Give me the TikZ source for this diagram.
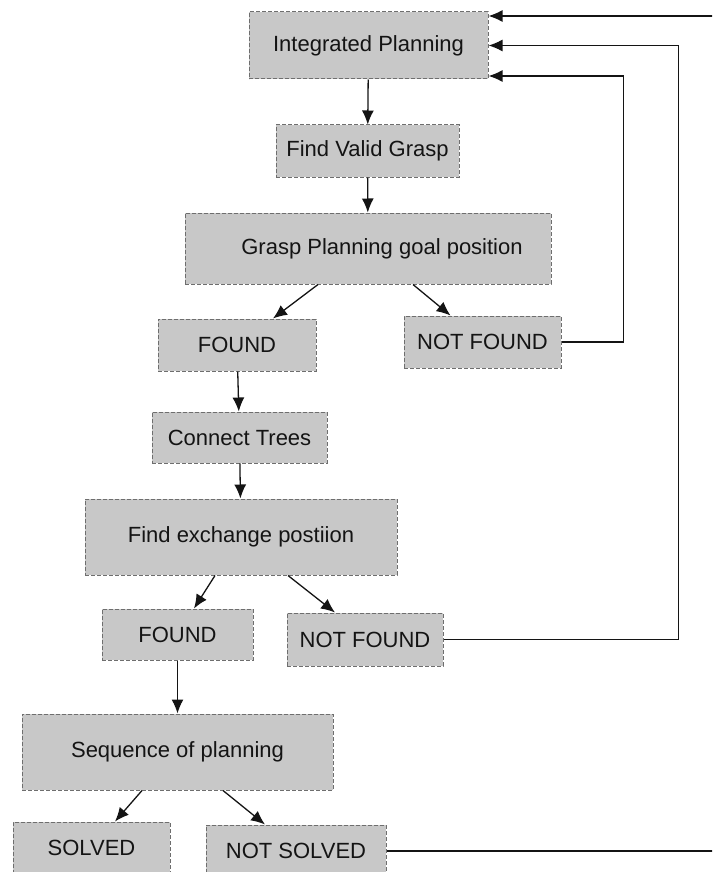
\documentclass[tikz,border=0pt]{standalone}
\usepackage{fontspec}
\setmainfont{Liberation Sans}
\usepackage{tikz}
\usetikzlibrary{arrows.meta, positioning}
\definecolor{boxfill}{HTML}{C8C8C8}
\definecolor{boxedge}{HTML}{6E6E6E}
\definecolor{inkline}{HTML}{141414}

\begin{document}
\begin{tikzpicture}[
  x=0.5pt, y=-0.5pt,
  blk/.style={draw=boxedge, fill=boxfill, dash pattern=on 2pt off 1pt, line width=0.5pt, inner sep=0pt, font=\fontsize{11}{13}\selectfont, text=inkline},
  ->, >={Latex[length=7pt,width=6pt]}, line width=0.65pt, inkline
]
\useasboundingbox (0,0) rectangle (712,872);
\clip (0,0) rectangle (712,872);

\node[blk, minimum width=119.5pt, minimum height=33.5pt] (integ) at (368.5,45.5) {Integrated Planning};
\node[blk, minimum width=91.5pt, minimum height=26pt] (valid) at (367.5,151) {Find Valid Grasp};
\node[blk, minimum width=183pt, minimum height=35.5pt] (grasp) at (368,248.5) {\hspace*{14pt}Grasp Planning goal position};
\node[blk, minimum width=79pt, minimum height=26pt] (found1) at (237,345) {FOUND};
\node[blk, minimum width=78.5pt, minimum height=26pt] (notfound1) at (482.5,342) {NOT FOUND};
\node[blk, minimum width=87.5pt, minimum height=25.5pt] (connect) at (239.5,437.5) {Connect Trees};
\node[blk, minimum width=156pt, minimum height=38pt] (exch) at (241,537) {Find exchange postiion};
\node[blk, minimum width=75.5pt, minimum height=25.5pt] (found2) at (177.5,634.5) {FOUND};
\node[blk, minimum width=78pt, minimum height=26.5pt] (notfound2) at (365,639.5) {NOT FOUND};
\node[blk, minimum width=155.5pt, minimum height=38pt] (seq) at (177.5,752) {Sequence of planning};
\node[blk, minimum width=78.5pt, minimum height=26pt] (solved) at (91.5,848) {SOLVED};
\node[blk, minimum width=90pt, minimum height=26pt] (notsolved) at (296,851) {NOT SOLVED};

\draw (integ) -- (valid);
\draw (valid) -- (grasp);
\draw ([xshift=-25pt]grasp.south) -- ([xshift=18pt]found1.north);
\draw ([xshift=22.5pt]grasp.south) -- ([xshift=-16pt]notfound1.north);
\draw (found1) -- (connect);
\draw (connect) -- (exch);
\draw ([xshift=-13pt]exch.south) -- ([xshift=8.25pt]found2.north);
\draw ([xshift=23.5pt]exch.south) -- ([xshift=-15pt]notfound2.north);
\draw (found2) -- (seq);
\draw ([xshift=-17.75pt]seq.south) -- ([xshift=11.75pt]solved.north);
\draw ([xshift=22.75pt]seq.south) -- ([xshift=-15.5pt]notsolved.north);

% back to the planner
\draw (notfound1.east) -- ++(31pt,0) |- ([yshift=-15.25pt]integ.east);
\draw (notfound2.east) -- ++(117.5pt,0) |- (integ.east);
\draw (notsolved.east) -- ++(177pt,0) |- ([yshift=14.75pt]integ.east);
\end{tikzpicture}
\end{document}
